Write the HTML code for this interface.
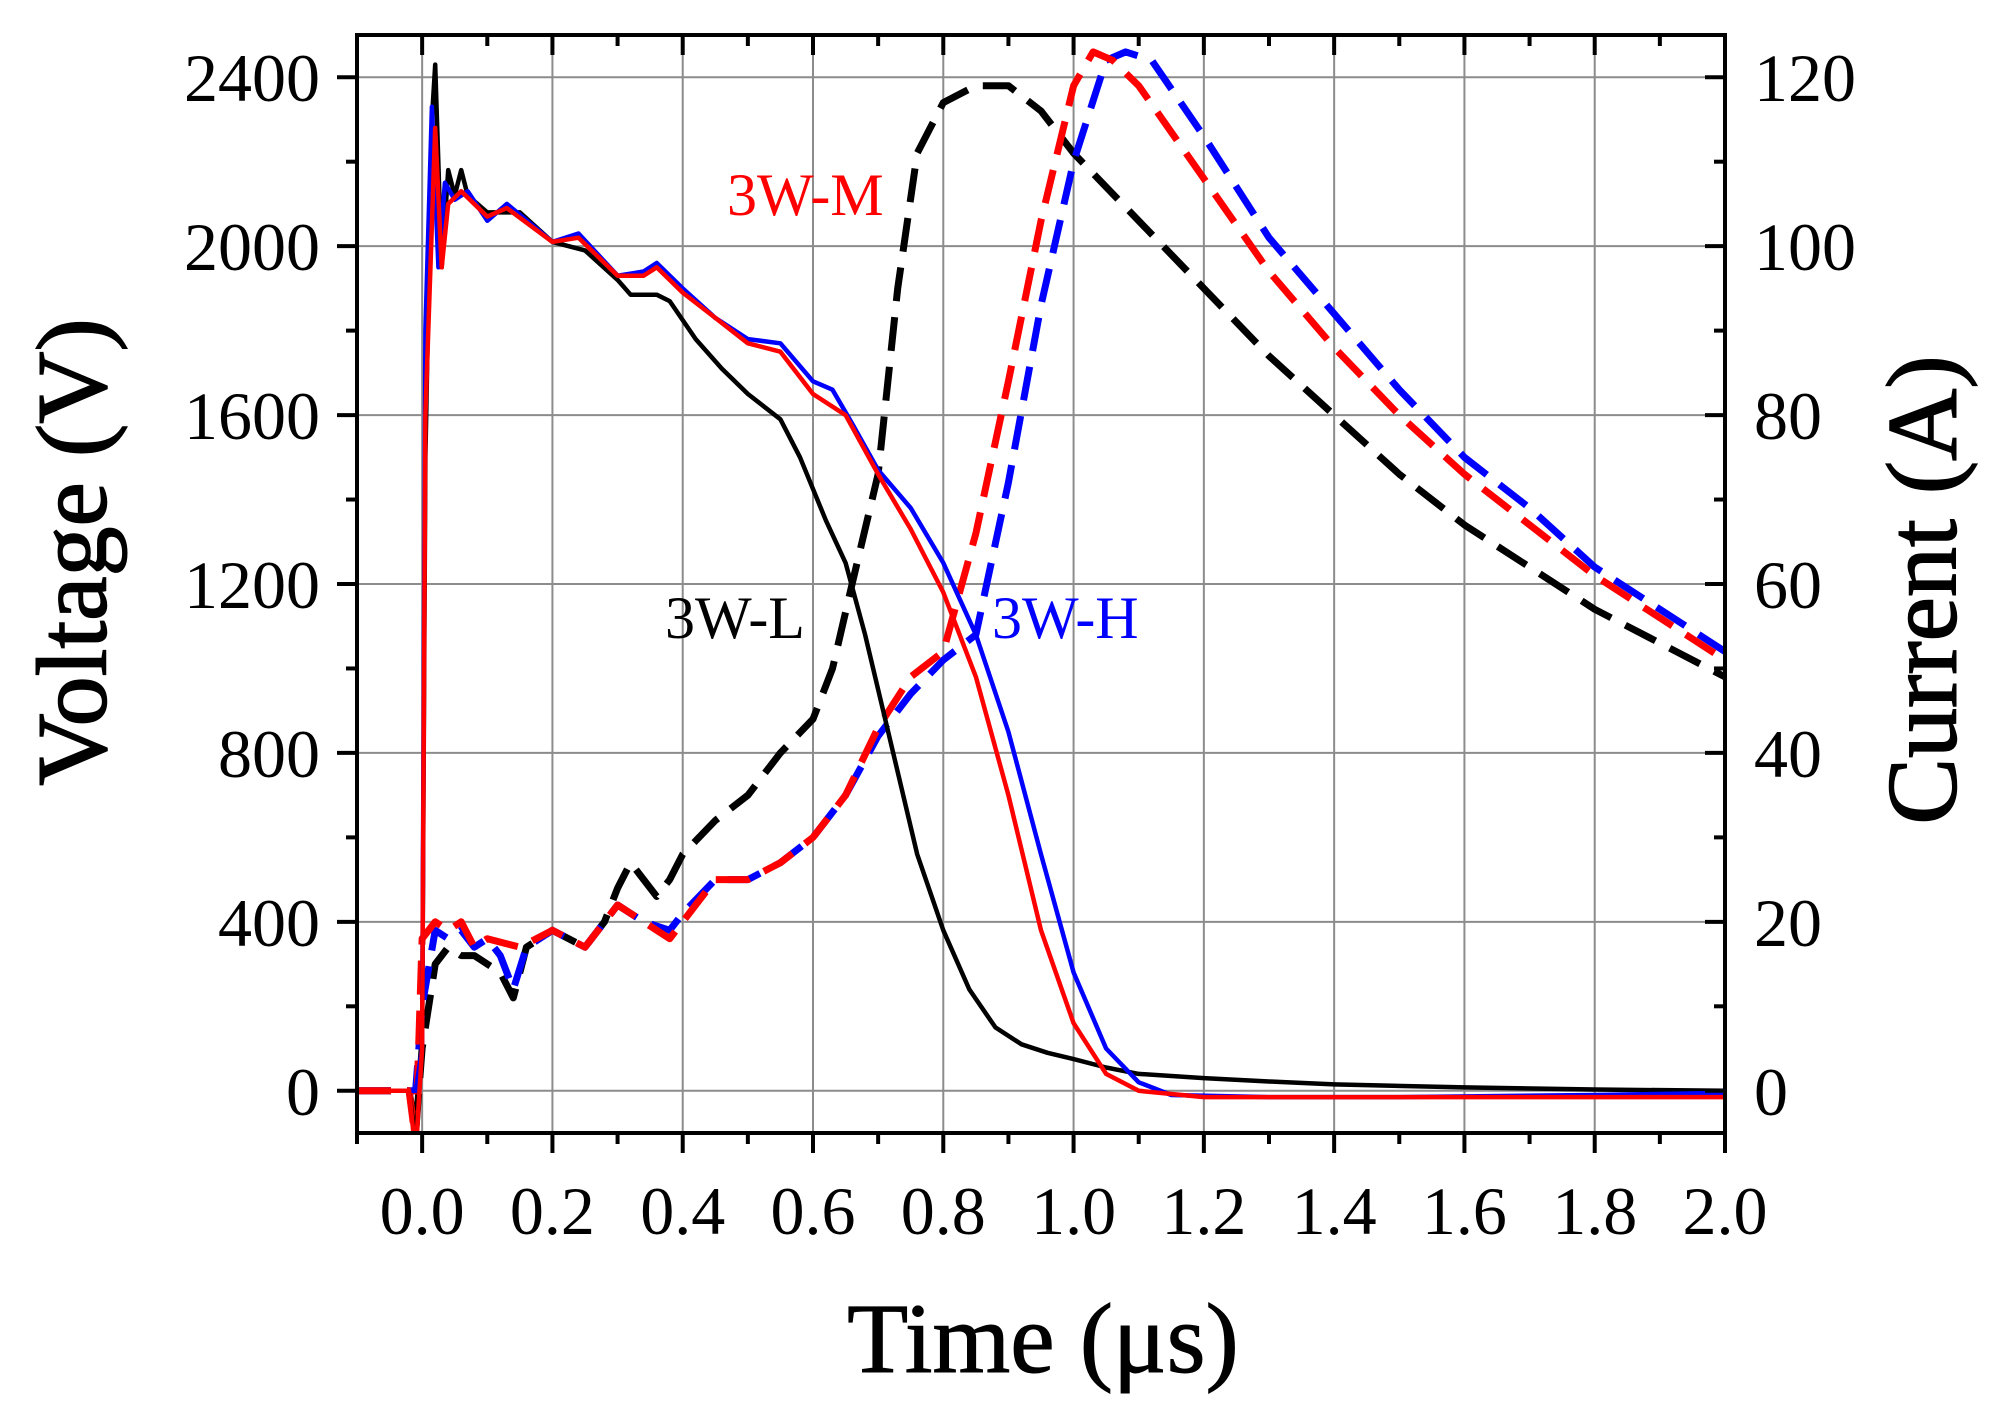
<!DOCTYPE html>
<html><head><meta charset="utf-8"><style>
html,body{margin:0;padding:0;background:#fff;}
svg{display:block;}
text{font-family:"Liberation Serif",serif;}
</style></head><body>
<svg id="chart" width="1989" height="1411" viewBox="0 0 1989 1411">
<defs><clipPath id="clip"><rect x="357" y="35" width="1368" height="1098"/></clipPath></defs>
<g id="grid"></g>
<g id="series" clip-path="url(#clip)"></g>
<g id="axes"></g>
<text x="72" y="552" font-size="100" stroke="#000" stroke-width="1.5" text-anchor="middle" dominant-baseline="central" transform="rotate(-90 72 552)">Voltage (V)</text>
<text x="1922" y="590" font-size="100" stroke="#000" stroke-width="1.5" text-anchor="middle" dominant-baseline="central" transform="rotate(-90 1922 590)">Current (A)</text>
<text x="1043" y="1372" font-size="100" stroke="#000" stroke-width="1" text-anchor="middle">Time (μs)</text>
<text x="727" y="215" font-size="60" fill="#ff0000">3W-M</text>
<text x="665" y="638" font-size="60" fill="#000">3W-L</text>
<text x="992" y="638" font-size="60" fill="#0000ff">3W-H</text>
</svg>
<script>
const xTicks=[0,0.2,0.4,0.6,0.8,1.0,1.2,1.4,1.6,1.8,2.0];
const xTickLabels=["0.0","0.2","0.4","0.6","0.8","1.0","1.2","1.4","1.6","1.8","2.0"];
const yTicks=[0,400,800,1200,1600,2000,2400];
const yTickLabels=["0","400","800","1200","1600","2000","2400"];
const y2Ticks=[0,20,40,60,80,100,120];
const y2TickLabels=["0","20","40","60","80","100","120"];

const tVL=[-0.1,-0.02,-0.01,0,0.005,0.015,0.02,0.03,0.04,0.05,0.06,0.07,0.1,0.15,0.2,0.25,0.3,0.32,0.36,0.38,0.42,0.46,0.5,0.55,0.58,0.62,0.65,0.68,0.72,0.76,0.8,0.84,0.88,0.92,0.96,1.0,1.05,1.1,1.2,1.3,1.4,1.6,1.8,2.0];
const vVL=[0,0,-120,100,1500,2300,2430,1950,2180,2120,2180,2120,2080,2080,2010,1990,1920,1885,1885,1870,1780,1710,1650,1590,1500,1350,1250,1080,820,560,380,240,150,110,90,75,55,40,30,22,15,8,3,0];
const tVH=[-0.1,-0.01,0,0.005,0.015,0.025,0.035,0.05,0.07,0.1,0.13,0.2,0.24,0.3,0.34,0.36,0.4,0.45,0.5,0.55,0.6,0.63,0.66,0.7,0.75,0.8,0.85,0.9,0.95,1.0,1.05,1.1,1.15,1.3,1.5,1.8,2.0];
const vVH=[0,0,100,1800,2330,1950,2150,2110,2130,2060,2100,2010,2030,1930,1940,1960,1900,1830,1780,1770,1680,1660,1580,1470,1380,1250,1080,850,560,280,100,20,-10,-15,-15,-10,-5];
const tVM=[-0.1,-0.02,-0.01,0,0.005,0.02,0.03,0.04,0.06,0.1,0.13,0.2,0.24,0.3,0.34,0.36,0.4,0.45,0.5,0.55,0.6,0.65,0.7,0.75,0.8,0.85,0.9,0.95,1.0,1.05,1.1,1.2,1.5,2.0];
const vVM=[0,0,-150,100,1600,2280,1950,2100,2130,2070,2090,2010,2020,1930,1930,1950,1890,1830,1770,1750,1650,1600,1460,1330,1180,980,700,380,160,40,0,-15,-15,-15];

const tIL=[-0.1,-0.02,-0.01,0,0.01,0.02,0.04,0.06,0.08,0.1,0.12,0.14,0.16,0.2,0.25,0.28,0.3,0.32,0.36,0.38,0.4,0.45,0.5,0.55,0.6,0.63,0.66,0.7,0.73,0.76,0.8,0.85,0.9,0.95,1.0,1.1,1.2,1.3,1.4,1.5,1.6,1.7,1.8,1.9,2.0];
const iIL=[0,0,-5,5,10,15,17,16,16,15,14,11,17,19,17,20,24,27,23,25,28,32,35,40,44,50,60,73,95,111,117,119,119,116,111,103,95,87,80,73,67,62,57,53,49];
const tIM=[-0.1,-0.02,-0.01,0,0.02,0.04,0.06,0.08,0.1,0.15,0.2,0.25,0.3,0.34,0.38,0.4,0.45,0.5,0.55,0.6,0.65,0.7,0.75,0.8,0.85,0.9,0.95,1.0,1.03,1.06,1.1,1.2,1.3,1.4,1.5,1.6,1.7,1.8,1.9,2.0];
const iIM=[0,0,-6,18,20,19,20,17,18,17,19,17,22,20,18,20,25,25,27,30,35,43,49,52,66,84,103,119,123,122,119,108,97,88,80,73,67,61,56,51];
const tIH=[-0.1,-0.01,0,0.02,0.04,0.06,0.08,0.1,0.12,0.14,0.16,0.2,0.25,0.3,0.34,0.38,0.4,0.45,0.5,0.55,0.6,0.65,0.7,0.75,0.8,0.85,0.9,0.95,1.0,1.05,1.08,1.12,1.2,1.3,1.4,1.5,1.6,1.7,1.8,1.9,2.0];
const iIH=[0,0,10,19,18,19,17,18,16,12,17,19,17,22,20,19,21,25,25,27,30,35,42,47,51,54,72,93,110,122,123,122,113,101,92,83,75,69,62,57,52];

const NS="http://www.w3.org/2000/svg";
const L=357,R=1725,T=35,B=1133,XMIN=-0.1,XMAX=2.0,YMIN=-100,YMAX=2500;
function xs(t){return L+(t-XMIN)/(XMAX-XMIN)*(R-L);}
function ys(v){return B-(v-YMIN)/(YMAX-YMIN)*(B-T);}
function ys2(a){return ys(a*20);}
function mk(tag,attrs,parent){const e=document.createElementNS(NS,tag);for(const k in attrs)e.setAttribute(k,attrs[k]);parent.appendChild(e);return e;}
const grid=document.getElementById('grid'),axes=document.getElementById('axes'),series=document.getElementById('series');

xTicks.forEach((t,i)=>{
  const x=xs(t);
  const g=mk('line',{x1:x,y1:T,x2:x,y2:B,stroke:'#8c8c8c','stroke-width':2},grid);
  
  
  const lb=mk('text',{x:x,y:1234,'font-size':68,'text-anchor':'middle'},axes);
  lb.textContent=xTickLabels[i];
  
  
});
yTicks.forEach((v,i)=>{
  const y=ys(v);
  const g=mk('line',{x1:L,y1:y,x2:R,y2:y,stroke:'#8c8c8c','stroke-width':2},grid);
  
  
  const lb=mk('text',{x:320,y:y+24,'font-size':68,'text-anchor':'end'},axes);
  lb.textContent=yTickLabels[i];
  
  
});
y2Ticks.forEach((a,i)=>{
  const lb=mk('text',{x:1754,y:ys2(a)+24,'font-size':68,'text-anchor':'start'},axes);
  lb.textContent=y2TickLabels[i];
  
  
});
for(let k=-1;k<=20;k++){
  const t=k/10,x=xs(t),maj=(k%2===0);
  const len=maj?20:11;
  mk('line',{x1:x,y1:B,x2:x,y2:B+len,stroke:'#000','stroke-width':4},axes);
  mk('line',{x1:x,y1:T,x2:x,y2:T+len,stroke:'#000','stroke-width':4},axes);
}
for(let v=0;v<=2400;v+=200){
  const y=ys(v),maj=(v%400===0),len=maj?20:11;
  mk('line',{x1:L-len,y1:y,x2:L,y2:y,stroke:'#000','stroke-width':4},axes);
  mk('line',{x1:R-len,y1:y,x2:R,y2:y,stroke:'#000','stroke-width':4},axes);
}
const fr=mk('rect',{x:L,y:T,width:R-L,height:B-T,fill:'none',stroke:'#000','stroke-width':4},axes);



function line(ts,vs,yf,color,dashed,name){
  const pts=ts.map((t,i)=>xs(t).toFixed(1)+','+yf(vs[i]).toFixed(1)).join(' ');
  const p=mk('polyline',{points:pts,fill:'none',stroke:color,'stroke-width':dashed?7:4.5,'stroke-linejoin':'round'},series);
  if(dashed)p.setAttribute('stroke-dasharray','34 16');
  
  
}
line(tIL,iIL,ys2,'#000',true,'current-3w-l');
line(tIH,iIH,ys2,'#0000ff',true,'current-3w-h');
line(tIM,iIM,ys2,'#ff0000',true,'current-3w-m');
line(tVL,vVL,ys,'#000',false,'voltage-3w-l');
line(tVH,vVH,ys,'#0000ff',false,'voltage-3w-h');
line(tVM,vVM,ys,'#ff0000',false,'voltage-3w-m');
</script>
</body></html>
